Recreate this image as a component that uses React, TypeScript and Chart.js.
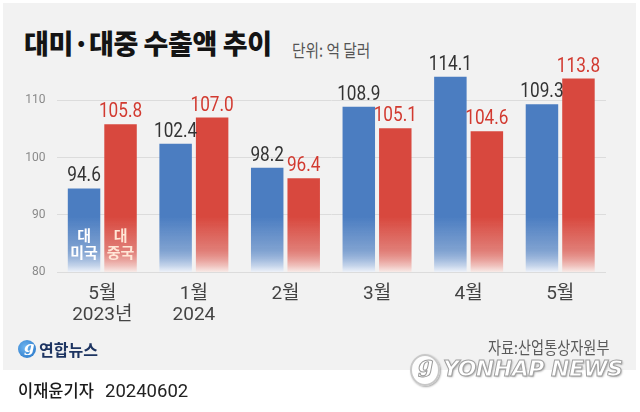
import React, { useEffect, useRef } from 'react';
import { Chart, registerables } from 'chart.js';

Chart.register(...registerables);

const categories: (string | string[])[] = [['5월', '2023년'], ['1월', '2024'], '2월', '3월', '4월', '5월'];
const usValues = [94.6, 102.4, 98.2, 108.9, 114.1, 109.3];
const chinaValues = [105.8, 107.0, 96.4, 105.1, 104.6, 113.8];
const yTicks = [80, 90, 100, 110];
const seriesNames = ['대미국', '대중국'];
const innerLabels = [['대', '미국'], ['대', '중국']];

const BLUE = '#4b7dc1';
const RED = '#d8483e';
const BLUE_PALE = '#eef2f9';
const RED_PALE = '#f8ebe8';

function makeGradient(chart: any, full: string, pale: string) {
  const area = chart.chartArea;
  if (!area) return full;
  const g = chart.ctx.createLinearGradient(0, area.bottom, 0, area.bottom - 55);
  g.addColorStop(0, pale);
  g.addColorStop(0.4, full + 'b0');
  g.addColorStop(1, full);
  return g;
}

const labelPlugin = {
  id: 'valueLabels',
  afterDatasetsDraw(chart: any) {
    const ctx = chart.ctx;
    chart.data.datasets.forEach((ds: any, di: number) => {
      const meta = chart.getDatasetMeta(di);
      meta.data.forEach((bar: any, i: number) => {
        const v = ds.data[i] as number;
        ctx.save();
        ctx.translate(bar.x, bar.y - 7);
        ctx.scale(0.84, 1);
        ctx.font = '20.5px Roboto, "Noto Sans", sans-serif';
        ctx.fillStyle = di === 0 ? '#333333' : '#d23a30';
        ctx.textAlign = 'center';
        ctx.textBaseline = 'alphabetic';
        ctx.fillText(v.toFixed(1), 0, 0);
        ctx.restore();
      });
      const first = meta.data[0];
      if (first) {
        const lines = innerLabels[di];
        ctx.save();
        ctx.font = 'bold 15px "Noto Sans CJK KR", sans-serif';
        ctx.fillStyle = di === 0 ? '#ffffff' : '#ffe6d6';
        ctx.textAlign = 'center';
        ctx.textBaseline = 'middle';
        ctx.fillText(lines[0], first.x, 235);
        ctx.fillText(lines[1], first.x, 252);
        ctx.restore();
      }
    });
  },
};

export default function App() {
  const ref = useRef<HTMLCanvasElement | null>(null);

  useEffect(() => {
    if (!ref.current) return;
    const chart = new Chart(ref.current, {
      type: 'bar',
      data: {
        labels: categories,
        datasets: [
          {
            label: seriesNames[0],
            data: usValues,
            backgroundColor: (c: any) => makeGradient(c.chart, BLUE, BLUE_PALE),
            borderWidth: 0,
            categoryPercentage: 0.797,
            barPercentage: 0.89,
          },
          {
            label: seriesNames[1],
            data: chinaValues,
            backgroundColor: (c: any) => makeGradient(c.chart, RED, RED_PALE),
            borderWidth: 0,
            categoryPercentage: 0.797,
            barPercentage: 0.89,
          },
        ],
      },
      options: {
        responsive: false,
        animation: false,
        devicePixelRatio: 1,
        layout: { padding: { top: 66, right: 34, left: 0, bottom: 0 } },
        plugins: { legend: { display: false }, tooltip: { enabled: false } },
        scales: {
          x: {
            grid: { display: false },
            border: { display: false },
            afterFit: (s: any) => { s.height = 140; },
            ticks: {
              color: '#444444',
              padding: 4,
              font: { family: 'Roboto, "Noto Sans CJK KR", sans-serif', size: 19, lineHeight: 1.08 },
              maxRotation: 0,
            },
          },
          y: {
            min: 80,
            max: 116,
            afterFit: (s: any) => { s.width = 56.5; },
            afterBuildTicks: (s: any) => { s.ticks = yTicks.map((v) => ({ value: v })); },
            grid: { color: '#dcdcdc', drawTicks: false, lineWidth: 1 },
            border: { display: false },
            ticks: {
              color: '#8a8a8a',
              padding: 11,
              font: { family: 'Roboto, sans-serif', size: 12 },
            },
          },
        },
      },
      plugins: [labelPlugin],
    });
    return () => chart.destroy();
  }, []);

  const abs = (o: React.CSSProperties): React.CSSProperties => ({ position: 'absolute', whiteSpace: 'nowrap', ...o });

  return (
    <div style={{ position: 'fixed', left: 0, top: 0, width: 640, height: 412, background: '#ffffff', overflow: 'hidden' }}>
      <div style={abs({ left: 3, top: 3, width: 633, height: 367, background: '#f2f2f2' })} />
      <div style={abs({ left: 24, top: 28, fontFamily: '"Noto Sans CJK KR", sans-serif', fontWeight: 900, fontSize: 27, lineHeight: '30px', color: '#141414', letterSpacing: -0.4 })}>
        대미·대중 수출액 추이
      </div>
      <div style={abs({ left: 292, top: 40, fontFamily: '"Noto Sans CJK KR", sans-serif', fontSize: 17.5, lineHeight: '20px', color: '#555555', transform: 'scaleX(0.84)', transformOrigin: 'left center' })}>
        단위: 억 달러
      </div>
      <canvas ref={ref} width={640} height={412} style={{ position: 'absolute', left: 0, top: 0, width: 640, height: 412 }} />
      <div style={abs({ left: 18, top: 340, width: 18, height: 18, borderRadius: '50%', background: 'radial-gradient(circle at 40% 40%, #6fb6f0, #1f6fc4)' })} />
      <div style={abs({ left: 24, top: 338, fontFamily: 'DejaVu Serif, serif', fontStyle: 'italic', fontWeight: 700, fontSize: 15, color: '#ffffff' })}>g</div>
      <div style={abs({ left: 39, top: 339, fontFamily: '"Noto Sans CJK KR", sans-serif', fontWeight: 700, fontSize: 16, lineHeight: '20px', color: '#1d3461' })}>
        연합뉴스
      </div>
      <div style={abs({ left: 488, top: 337, fontFamily: '"Noto Sans CJK KR", sans-serif', fontSize: 16.5, lineHeight: '20px', color: '#5a5a5a', transform: 'scaleX(0.86)', transformOrigin: 'left center' })}>
        자료:산업통상자원부
      </div>
      <div style={abs({ left: 410, top: 354, width: 26, height: 28, borderRadius: '50%', border: '2px solid #c8c8c8', background: 'rgba(255,255,255,0.85)', boxShadow: '1px 1px 2px rgba(0,0,0,0.35)' })} />
      <div style={abs({ left: 418, top: 351, fontFamily: 'DejaVu Serif, serif', fontStyle: 'italic', fontWeight: 700, fontSize: 22, color: '#ffffff', WebkitTextStroke: '1px #9a9a9a' } as any)}>g</div>
      <div style={abs({ left: 443, top: 356, fontFamily: '"DejaVu Sans", sans-serif', fontStyle: 'italic', fontWeight: 700, fontSize: 22, lineHeight: '26px', color: '#ffffff', WebkitTextStroke: '1px #a0a0a0', textShadow: '1px 1px 2px rgba(0,0,0,0.35)', letterSpacing: -0.5 } as any)}>
        YONHAP NEWS
      </div>
      <div style={abs({ left: 18, top: 379, fontFamily: '"Noto Sans CJK KR", sans-serif', fontWeight: 500, fontSize: 16.5, lineHeight: '22px', color: '#1a1a1a' })}>
        이재윤기자
      </div>
      <div style={abs({ left: 105, top: 380, fontFamily: 'Roboto, sans-serif', fontSize: 18.5, lineHeight: '22px', color: '#222222' })}>
        20240602
      </div>
    </div>
  );
}
